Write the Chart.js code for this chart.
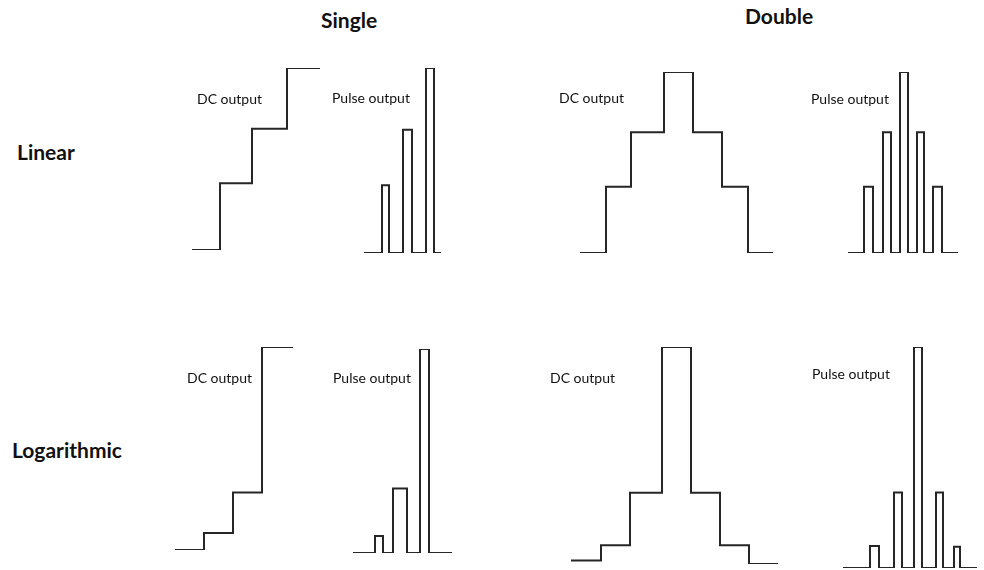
<!DOCTYPE html>
<html><head><meta charset="utf-8">
<script src="https://cdn.jsdelivr.net/npm/chart.js@4/dist/chart.umd.min.js"></script>
<style>
html,body{margin:0;padding:0;background:#fff;}
#wrap{position:relative;width:984px;height:570px;overflow:hidden;font-family:Lato,"Open Sans",sans-serif;color:#111;}
.lbl{position:absolute;white-space:nowrap;font-size:14px;line-height:14px;}
.hd{position:absolute;white-space:nowrap;font-weight:bold;font-size:21px;line-height:20px;}
canvas{position:absolute;}
</style></head>
<body><div id="wrap"></div>
<script>
// ---- data (time units, amplitude units) ----
const columnTitles = ["Single", "Double"];
const rowTitles = ["Linear", "Logarithmic"];
const dcLabel = "DC output";
const pulseLabel = "Pulse output";

// Single / Linear
const singleLinDcTimes   = [0, 2.8, 6.0, 9.5, 12.8];
const singleLinDcLevels  = [0, 1.1, 2.0, 3.0];
const singleLinPulseTimes  = [0, 1.8, 2.5, 3.9, 4.8, 6.2, 7.0, 7.7];
const singleLinPulseLevels = [0, 1.1, 0, 2.0, 0, 3.0, 0];
// Double / Linear
const doubleLinDcTimes   = [0, 2.6, 5.1, 8.4, 11.3, 14.2, 16.8, 19.3];
const doubleLinDcLevels  = [0, 1.1, 2.0, 3.0, 2.0, 1.1, 0];
const doubleLinPulseTimes  = [0, 1.6, 2.5, 3.5, 4.3, 5.2, 6.0, 6.9, 7.6, 8.5, 9.4, 11.0];
const doubleLinPulseLevels = [0, 1.1, 0, 2.0, 0, 3.0, 0, 2.0, 0, 1.1, 0];
// Single / Logarithmic
const singleLogDcTimes   = [0, 2.9, 5.8, 8.7, 11.8];
const singleLogDcLevels  = [0, 1.0, 3.4, 12.0];
const singleLogPulseTimes  = [0, 2.2, 3.0, 4.0, 5.4, 6.7, 7.6, 9.9];
const singleLogPulseLevels = [0, 1.0, 0, 3.8, 0, 12.0, 0];
// Double / Logarithmic
const doubleLogDcTimes   = [0, 3.0, 5.9, 9.1, 12.0, 14.9, 17.8, 20.7];
const doubleLogDcLevels  = [0, 0.85, 3.8, 12.0, 3.8, 0.85, -0.2];
const doubleLogPulseTimes  = [0, 2.7, 3.6, 5.1, 5.9, 7.1, 7.9, 9.3, 10.0, 11.1, 11.7, 13.4];
const doubleLogPulseLevels = [0, 1.2, 0, 4.1, 0, 12.0, 0, 4.1, 0, 1.15, 0];

// ---- layout (pixel boxes for each panel) ----
const panels = [
  {times: singleLinDcTimes,    levels: singleLinDcLevels,    box: {l:192, r:320, top:68,  base:250}},
  {times: singleLinPulseTimes, levels: singleLinPulseLevels, box: {l:364, r:441, top:68,  base:253}},
  {times: doubleLinDcTimes,    levels: doubleLinDcLevels,    box: {l:580, r:773, top:72,  base:253}},
  {times: doubleLinPulseTimes, levels: doubleLinPulseLevels, box: {l:848, r:958, top:72,  base:253}},
  {times: singleLogDcTimes,    levels: singleLogDcLevels,    box: {l:175, r:293, top:347, base:550}},
  {times: singleLogPulseTimes, levels: singleLogPulseLevels, box: {l:353, r:452, top:349, base:553}},
  {times: doubleLogDcTimes,    levels: doubleLogDcLevels,    box: {l:571, r:778, top:347, base:560}},
  {times: doubleLogPulseTimes, levels: doubleLogPulseLevels, box: {l:843, r:977, top:347, base:568}}
];

const wrap = document.getElementById('wrap');
const PAD = 3;
const LINE = '#262626';

panels.forEach(p => {
  const pts = p.levels.map((v, i) => ({x: p.times[i], y: v}));
  pts.push({x: p.times[p.times.length - 1], y: p.levels[p.levels.length - 1]});
  const maxV = Math.max(...p.levels);
  const minV = Math.min(...p.levels);
  const maxT = p.times[p.times.length - 1];
  const ppu = (p.box.base - p.box.top) / maxV;
  const bottomPx = p.box.base + (0 - minV) * ppu;
  const c = document.createElement('canvas');
  const w = (p.box.r - p.box.l) + 2 * PAD;
  const h = (bottomPx - p.box.top) + 2 * PAD;
  c.width = Math.round(w); c.height = Math.round(h);
  c.style.left = (p.box.l - PAD) + 'px';
  c.style.top = (p.box.top - PAD) + 'px';
  c.style.width = Math.round(w) + 'px'; c.style.height = Math.round(h) + 'px';
  wrap.appendChild(c);
  new Chart(c, {
    type: 'line',
    data: {datasets: [{data: pts, stepped: true, borderColor: LINE, borderWidth: 2,
      pointRadius: 0, fill: false, tension: 0, borderJoinStyle: 'miter', borderCapStyle: 'butt'}]},
    options: {
      responsive: false, animation: false, devicePixelRatio: 1,
      layout: {padding: PAD},
      plugins: {legend: {display: false}, tooltip: {enabled: false}},
      scales: {
        x: {type: 'linear', display: false, min: 0, max: maxT},
        y: {type: 'linear', display: false, min: minV, max: maxV}
      }
    }
  });
});

// ---- text ----
function addText(cls, txt, left, cy, lh) {
  const d = document.createElement('div');
  d.className = cls; d.textContent = txt;
  d.style.left = left + 'px'; d.style.top = (cy - lh / 2) + 'px';
  wrap.appendChild(d);
}
addText('hd', columnTitles[0], 321, 20, 20);
addText('hd', columnTitles[1], 745, 16, 20);
addText('hd', rowTitles[0], 17, 152, 20);
addText('hd', rowTitles[1], 12, 450, 20);
addText('lbl', dcLabel, 197, 99, 14);
addText('lbl', dcLabel, 559, 98, 14);
addText('lbl', dcLabel, 187, 378, 14);
addText('lbl', dcLabel, 550, 378, 14);
addText('lbl', pulseLabel, 332, 98, 14);
addText('lbl', pulseLabel, 811, 99, 14);
addText('lbl', pulseLabel, 333, 378, 14);
addText('lbl', pulseLabel, 812, 374, 14);
</script></body></html>
